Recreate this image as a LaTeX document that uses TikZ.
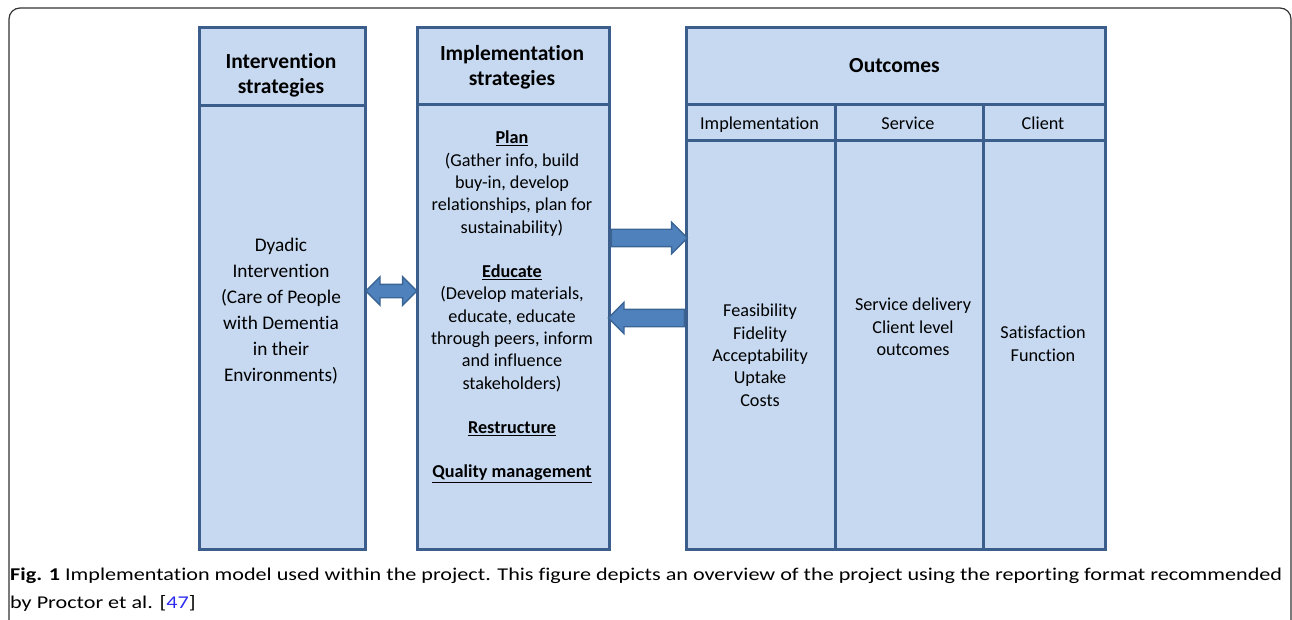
\documentclass[tikz,border=0pt]{standalone}
\usepackage{fontspec}
\setmainfont{Carlito}[Ligatures=NoCommon]
\usetikzlibrary{shapes.arrows,calc}
\definecolor{boxfill}{HTML}{C6D9F1}
\definecolor{boxline}{HTML}{3B5E8C}
\definecolor{arrfill}{HTML}{4F81BD}
\definecolor{arrline}{HTML}{3A6595}
\definecolor{linkblue}{HTML}{2B2BEF}
\definecolor{captext}{HTML}{231F20}
\newsavebox\capboxa
\newsavebox\capboxb
\begin{document}
\sbox\capboxa{\fontsize{18}{20}\selectfont\textbf{Fig. 1} Implementation model used within the project. This figure depicts an overview of the project using the reporting format recommended}%
\sbox\capboxb{\fontsize{18}{20}\selectfont by Proctor et al. [\textcolor{linkblue}{47}]}%
\pgfmathsetmacro\capsx{1272/\wd\capboxa}%
\begin{tikzpicture}[x=1pt,y=-1pt,
  box/.style={draw=boxline, fill=boxfill, line width=2.6pt, inner sep=0pt, anchor=north west},
  headtxt/.style={font=\fontsize{21.5}{25}\selectfont\bfseries, align=center, inner sep=0pt, anchor=north},
  bodytxt/.style={font=\fontsize{18.2}{22.3}\selectfont, align=center, inner sep=0pt, anchor=north},
  bigtxt/.style={font=\fontsize{19.3}{26}\selectfont, align=center, inner sep=0pt, anchor=north},
  blockarrow/.style={single arrow, draw=arrline, fill=arrfill, line width=1.4pt, inner xsep=0pt, inner ysep=8pt,
    single arrow head extend=7pt, single arrow tip angle=90, minimum height=76pt, anchor=tail},
  captxt/.style={inner sep=0pt, anchor=base west, text=captext}]
\useasboundingbox (0,0) rectangle (1292,620);
% outer frame
\coordinate (fbl) at (9,640);
\coordinate (fbr) at (1291,640);
\draw[line width=1.2pt, rounded corners=11pt, black!80] (fbl) -- (9,8) -- (1291,8) -- (fbr);
% column 1
\node[box, minimum width=166pt, minimum height=78pt] (ih) at (198,26) {};
\node[box, minimum width=166pt, minimum height=444pt] (ib) at (198,104) {};
% column 2
\node[box, minimum width=192pt, minimum height=77pt] (mh) at (416,26) {};
\node[box, minimum width=192pt, minimum height=445pt] (mb) at (416,103) {};
% outcomes
\node[box, minimum width=419pt, minimum height=77pt] (oh) at (685,26) {};
\node[box, minimum width=149pt, minimum height=36pt] (os1) at (685,103) {};
\node[box, minimum width=148pt, minimum height=36pt] (os2) at (834,103) {};
\node[box, minimum width=122pt, minimum height=36pt] (os3) at (982,103) {};
\node[box, minimum width=149pt, minimum height=409pt] (ob1) at (685,139) {};
\node[box, minimum width=148pt, minimum height=409pt] (ob2) at (834,139) {};
\node[box, minimum width=122pt, minimum height=409pt] (ob3) at (982,139) {};
% headers
\node[headtxt] (iht) at (281,53.5) {Intervention\\strategies};
\node[headtxt] (mht) at (512,45) {Implementation\\strategies};
\node[headtxt] (oht) at (894.5,58) {Outcomes};
\node[bodytxt] (os1t) at (759.5,116.5) {Implementation};
\node[bodytxt] (os2t) at (908,116.5) {Service};
\node[bodytxt] (os3t) at (1043,116.5) {Client};
% bodies
\node[bigtxt] (ibt) at (281,238) {Dyadic\\Intervention\\(Care of People\\with Dementia\\in their\\Environments)};
\node[bodytxt] (mbt) at (512,131) {\underline{\textbf{Plan}}\\(Gather info, build\\buy-in, develop\\relationships, plan for\\sustainability)\\[22.1pt]
  \underline{\textbf{Educate}}\\(Develop materials,\\educate, educate\\through peers, inform\\and influence\\stakeholders)\\[22.1pt]
  \underline{\textbf{Restructure}}\\[22.1pt]\underline{\textbf{Quality management}}};
\node[bodytxt] (ob1t) at (760,304) {Feasibility\\Fidelity\\Acceptability\\Uptake\\Costs};
\node[bodytxt] (ob2t) at (913,298) {Service delivery\\Client level\\outcomes};
\node[bodytxt] (ob3t) at (1043,326) {Satisfaction\\Function};
% arrows
\node[blockarrow] (a1) at (mb.east|-0,238) {};
\node[blockarrow, shape border rotate=180] (a2) at (ob1.west|-0,318) {};
\node[double arrow, draw=arrline, fill=arrfill, line width=1.4pt, inner xsep=0pt, inner ysep=6pt,
  double arrow head extend=7.5pt, double arrow tip angle=90, minimum height=51pt]
  (a3) at ($(ib.east|-0,291)!0.5!(mb.west|-0,291)$) {};
% caption
\node[captxt] (cap1) at (10,580.5) {\scalebox{\capsx}[1]{\usebox\capboxa}};
\node[captxt] (cap2) at (10,608) {\scalebox{\capsx}[1]{\usebox\capboxb}};
\end{tikzpicture}
\end{document}
